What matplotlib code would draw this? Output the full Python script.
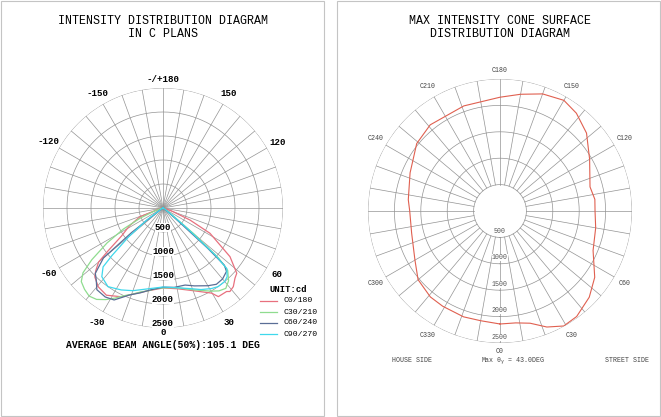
import matplotlib.pyplot as plt
import numpy as np
from matplotlib.patches import Rectangle
from matplotlib.lines import Line2D

# ---- left diagram: intensity (cd) vs gamma angle for each C plane ----
c0_gamma = [-90, -75, -69, -62, -56, -52, -50, -47, -44.7, -39.4, -33, -25, -20, -10, 0,
            10, 20, 29.7, 32, 37.3, 38.7, 41.8, 45.7, 48.5, 54, 61.7, 66, 72, 90]
c0_cd = [0, 104, 521, 792, 1041, 1458, 1750, 1916, 2020, 2125, 2166, 2041, 1916, 1750, 1666,
         1708, 1833, 2041, 2177, 2187, 2229, 2198, 2095, 2052, 1725, 1112, 614, 167, 0]

c30_gamma = [-90, -74, -70, -66, -62, -58, -54, -51, -48, -44, -40, -36, -32, -28, -24, -20,
             -15, -10, -5, 0, 5, 10, 20, 25, 30, 34, 38, 42, 46, 48, 50, 53, 60, 90]
c30_cd = [0, 62, 208, 521, 937, 1375, 1833, 2145, 2291, 2354, 2395, 2354, 2250, 2125, 2000, 1916,
          1812, 1750, 1687, 1666, 1666, 1687, 1812, 1895, 2000, 2083, 2125, 2041, 1875, 1562, 833, 208, 42, 0]

c60_gamma = [-90, -70, -55, -52, -50, -46, -43, -39, -33, -28, -21, -15, -9, 0, 8, 16, 22,
             30, 35, 40, 45, 47, 48, 50, 55, 70, 90]
c60_cd = [0, 0, 100, 830, 1620, 1960, 2040, 2190, 2210, 2170, 1940, 1830, 1730, 1650, 1670, 1670, 1750,
          1870, 1940, 1930, 1870, 1750, 1250, 310, 40, 0, 0]

c90_gamma = [-90, -58, -53.6, -50, -47, -45.5, -41.7, -35, -27, -20, -10, 0, 10, 20, 25, 31,
             35, 40, 43, 46.5, 48, 50, 52, 60, 90]
c90_cd = [0, 42, 417, 937, 1458, 1750, 1916, 2000, 1916, 1833, 1708, 1646, 1687, 1791, 1875, 1958,
          2000, 2000, 1958, 1833, 1458, 625, 208, 42, 0]

curve_names = ['C0/180', 'C30/210', 'C60/240', 'C90/270']
curve_colors = ['#e8707e', '#8fdc8f', '#5a6e96', '#3fd8ec']

left_angle_labels = ['0', '30', '60', '120', '150', '-/+180', '-150', '-120', '-60', '-30']
left_angle_pos = [0, 30, 60, 120, 150, 180, -150, -120, -60, -30]

# ---- right diagram: max intensity per C plane ----
c_angle = [0, 8, 15, 22, 29, 36, 46, 55, 67, 80, 90, 97, 105, 120, 132, 142, 150, 160, 170, 180,
           199, 219, 231, 247, 263, 270, 284, 300, 310, 321, 329, 341, 350, 360]
max_cd = [2140, 2140, 2200, 2370, 2490, 2470, 2350, 2190, 1915, 1840, 1800, 1810, 1765, 1960, 2205,
          2350, 2420, 2360, 2245, 2155, 2105, 2100, 2030, 1850, 1750, 1710, 1725, 1860, 2025, 2095,
          2105, 2120, 2110, 2140]
right_angle_labels = ['C0', 'C30', 'C60', 'C120', 'C150', 'C180', 'C210', 'C240', 'C300', 'C330']
right_angle_pos = [0, 30, 60, 120, 150, 180, 210, 240, 300, 330]

rings = [500, 1000, 1500, 2000, 2500]
MONO = 'Liberation Mono'
GRID = '#939393'

fig = plt.figure(figsize=(6.61, 4.17), dpi=100)

# panel frames
fig.patches.append(Rectangle((0.5 / 661, 1.5 / 417), 323 / 661, 415 / 417, transform=fig.transFigure,
                             fill=False, ec='#c4c4c4', lw=0.8))
fig.patches.append(Rectangle((337 / 661, 1.5 / 417), 323 / 661, 415 / 417, transform=fig.transFigure,
                             fill=False, ec='#c4c4c4', lw=0.8))


def polar_grid(ax, r_start):
    ax.set_theta_zero_location('S')
    ax.set_theta_direction(1)
    ax.set_ylim(0, 2500)
    ax.axis('off')
    t = np.linspace(0, 2 * np.pi, 361)
    for r in rings:
        ax.plot(t, np.full_like(t, r), color=GRID, lw=0.5, zorder=1)
    for a in range(0, 360, 10):
        ax.plot([np.deg2rad(a)] * 2, [r_start, 2500], color=GRID, lw=0.5, zorder=1)


# ---------- left ----------
axl = fig.add_axes([43 / 661, (417 - 208 - 120) / 417, 240 / 661, 240 / 417], projection='polar')
polar_grid(axl, 0)
for g, v, c in zip([c0_gamma, c30_gamma, c60_gamma, c90_gamma], [c0_cd, c30_cd, c60_cd, c90_cd], curve_colors):
    axl.plot(np.deg2rad(g), v, color=c, lw=0.9, zorder=3)
for r in rings:
    axl.text(0, r - 85, str(r), ha='center', va='center', family=MONO, fontsize=6.6, fontweight='bold',
             bbox=dict(fc='white', ec='none', pad=0), zorder=4, clip_on=False)
for lab, a in zip(left_angle_labels, left_angle_pos):
    if a == 0:
        rr = 2590
    elif a == 180:
        rr = 2670
    else:
        rr = 2750
    axl.text(np.deg2rad(a), rr, lab, ha='center', va='center', family=MONO, fontsize=6.6,
             fontweight='bold', clip_on=False)

fig.text(163 / 661, 1 - 21 / 417, 'INTENSITY DISTRIBUTION DIAGRAM', ha='center', va='center',
         family=MONO, fontsize=8.4)
fig.text(163 / 661, 1 - 34 / 417, 'IN C PLANS', ha='center', va='center', family=MONO, fontsize=8.4)
fig.text(163 / 661, 1 - 345.5 / 417, 'AVERAGE BEAM ANGLE(50%):105.1 DEG', ha='center', va='center',
         family=MONO, fontsize=7, fontweight='bold')

# legend
fig.text(270 / 661, 1 - 290 / 417, 'UNIT:cd', ha='left', va='center', family=MONO, fontsize=6.4,
         fontweight='bold')
for i, (n, c) in enumerate(zip(curve_names, curve_colors)):
    y = 1 - (301 + 11 * i) / 417
    fig.add_artist(Line2D([260 / 661, 277 / 661], [y, y], color=c, lw=0.9, transform=fig.transFigure))
    fig.text(283 / 661, y, n, ha='left', va='center', family=MONO, fontsize=5.9)

# ---------- right ----------
axr = fig.add_axes([368 / 661, (417 - 211 - 132) / 417, 264 / 661, 264 / 417], projection='polar')
polar_grid(axr, 500)
axr.plot(np.deg2rad(c_angle), max_cd, color='#e06050', lw=0.8, zorder=3)
for r in rings:
    axr.text(0, r - 110, str(r), ha='center', va='center', family=MONO, fontsize=4.8,
             color='#555555', bbox=dict(fc='white', ec='none', pad=0), zorder=4, clip_on=False)
for lab, a in zip(right_angle_labels, right_angle_pos):
    rr = 2660 if a in (0, 180) else 2730
    axr.text(np.deg2rad(a), rr, lab, ha='center', va='center', family=MONO, fontsize=4.8,
             color='#444444', clip_on=False)

fig.text(500 / 661, 1 - 21 / 417, 'MAX INTENSITY CONE SURFACE', ha='center', va='center',
         family=MONO, fontsize=8.4)
fig.text(500 / 661, 1 - 34 / 417, 'DISTRIBUTION DIAGRAM', ha='center', va='center', family=MONO,
         fontsize=8.4)
fig.text(412 / 661, 1 - 361 / 417, 'HOUSE SIDE', ha='center', va='center', family=MONO, fontsize=4.8,
         color='#444444')
fig.text(513 / 661, 1 - 361 / 417, r'Max θ$_\gamma$ = 43.0DEG', ha='center', va='center', family=MONO,
         fontsize=4.8, color='#444444')
fig.text(627 / 661, 1 - 361 / 417, 'STREET SIDE', ha='center', va='center', family=MONO, fontsize=4.8,
         color='#444444')

fig.savefig('out.png', dpi=100, facecolor='white')
